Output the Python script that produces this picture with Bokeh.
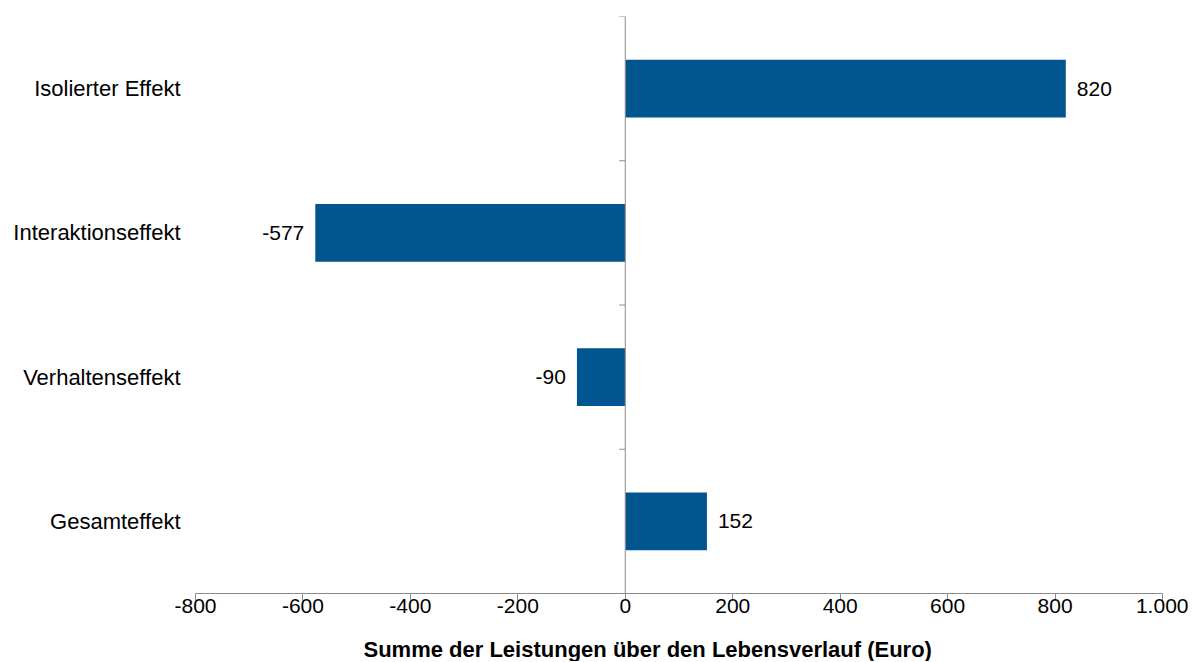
from bokeh.plotting import figure
from bokeh.models import ColumnDataSource, Range1d, FixedTicker, Span, Title
from bokeh.embed import file_html
from bokeh.resources import INLINE

# ---- data ----
categories = ["Isolierter Effekt", "Interaktionseffekt", "Verhaltenseffekt", "Gesamteffekt"]
values = [820, -577, -90, 152]
x_ticks = [-800, -600, -400, -200, 0, 200, 400, 600, 800, 1000]
x_tick_labels = ["-800", "-600", "-400", "-200", "0", "200", "400", "600", "800", "1.000"]
x_title = "Summe der Leistungen über den Lebensverlauf (Euro)"

FONT = "Liberation Sans"
BAR = "#02568F"
AXIS = "#8C8C8C"

n = len(categories)
ypos = [n - i - 0.5 for i in range(n)]
xmin, xmax = x_ticks[0], x_ticks[-1]

FW, FH = 967, 577
src = ColumnDataSource(dict(
    y=ypos, v=values, lab=[str(v) for v in values],
    off=[11 if v >= 0 else -11 for v in values],
    align=["left" if v >= 0 else "right" for v in values],
))

p = figure(frame_width=FW, frame_height=FH, output_backend="svg", toolbar_location=None,
           x_range=Range1d(xmin, xmax), y_range=Range1d(0, n),
           min_border_left=195, min_border_right=26, min_border_top=16, min_border_bottom=68)
p.outline_line_color = None
p.xgrid.grid_line_color = None
p.ygrid.grid_line_color = None
p.background_fill_color = "white"
p.border_fill_color = "white"

p.hbar(y="y", left=0, right="v", height=0.4, source=src, fill_color=BAR, line_color=None)
p.text(x="v", y="y", text="lab", x_offset="off", text_align="align", text_baseline="middle",
       source=src, text_font_size="21px", text_color="black", text_font={"value": FONT})

# vertical zero line with tick marks at category boundaries
p.add_layout(Span(location=0, dimension="height", line_color=AXIS, line_width=1))
tick_len = 6 * (xmax - xmin) / FW
p.segment(x0=[-tick_len] * (n + 1), x1=[0] * (n + 1), y0=list(range(n + 1)), y1=list(range(n + 1)),
          line_color=AXIS, line_width=1)

# x axis
xa = p.xaxis[0]
xa.ticker = FixedTicker(ticks=x_ticks)
xa.major_label_overrides = {t: l for t, l in zip(x_ticks, x_tick_labels)}
xa.axis_line_color = AXIS
xa.major_tick_line_color = AXIS
xa.major_tick_out = 7
xa.major_tick_in = 0
xa.minor_tick_line_color = None
xa.major_label_text_font = FONT
xa.major_label_text_font_size = "21px"
xa.major_label_text_color = "black"
xa.major_label_standoff = -2

# y axis with category names
ya = p.yaxis[0]
ya.ticker = FixedTicker(ticks=ypos)
ya.major_label_overrides = {y: c for y, c in zip(ypos, categories)}
ya.axis_line_color = None
ya.major_tick_line_color = None
ya.minor_tick_line_color = None
ya.major_tick_out = 0
ya.major_tick_in = 0
ya.major_label_text_font = FONT
ya.major_label_text_font_size = "22px"
ya.major_label_text_color = "black"
ya.major_label_standoff = 15

# spacer + x axis title
p.add_layout(Title(text=" ", text_font_size="16px", standoff=0), "below")
p.add_layout(Title(text=x_title, align="left", offset=168, text_font=FONT, text_font_size="22px",
                   text_font_style="bold", text_color="black", standoff=0), "below")

open("out.html", "w").write(file_html(p, INLINE))
